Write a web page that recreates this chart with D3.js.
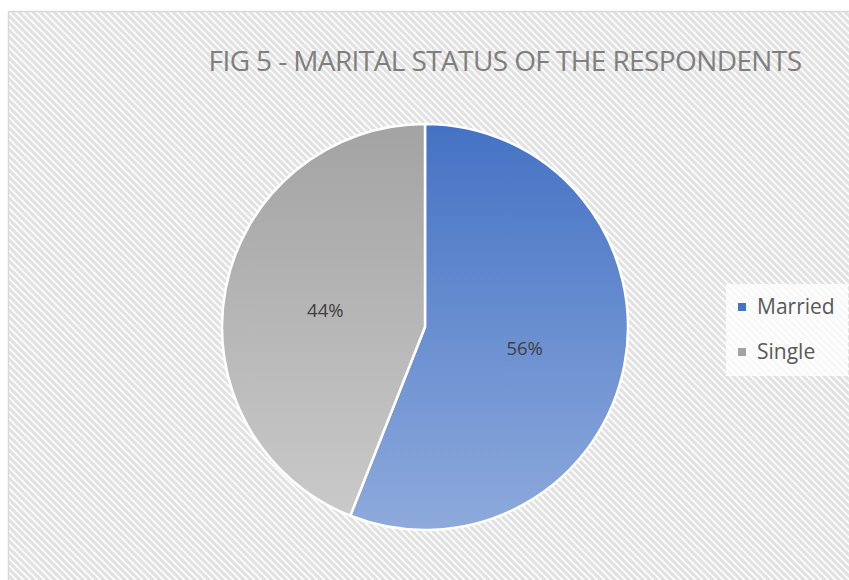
<!DOCTYPE html>
<html>
<head>
<meta charset="utf-8">
<script src="https://cdn.jsdelivr.net/npm/d3@7"></script>
<style>
  body { margin: 0; background: #fff; }
  svg { display: block; }
</style>
</head>
<body>
<svg id="chart"></svg>
<script>
const categories = ['Married', 'Single'];
const shares = [56, 44];
const titleText = 'FIG 5 - MARITAL STATUS OF THE RESPONDENTS';

const width = 849, height = 580;
const font = "'Open Sans', 'Liberation Sans', sans-serif";

const svg = d3.select('#chart')
    .attr('width', width)
    .attr('height', height);

const defs = svg.append('defs');

// diagonal hatch background
const pat = defs.append('pattern')
    .attr('id', 'hatch')
    .attr('patternUnits', 'userSpaceOnUse')
    .attr('width', 7)
    .attr('height', 7);
pat.append('rect').attr('width', 7).attr('height', 7).attr('fill', '#ffffff');
pat.append('path')
    .attr('d', 'M-1,-1 L8,8 M-4,3 L1,8 M3,-4 L8,1')
    .attr('stroke', '#e2e2e2')
    .attr('stroke-width', 3.2);

// vertical gradients for the slices
const gradStops = {
  Married: ['#4472c4', '#8eaadc'],
  Single: ['#a3a3a3', '#cbcbcb']
};

const cx = 425, cy = 327, r = 203;

categories.forEach(c => {
  const g = defs.append('linearGradient')
      .attr('id', 'grad-' + c)
      .attr('gradientUnits', 'userSpaceOnUse')
      .attr('x1', 0).attr('y1', -r)
      .attr('x2', 0).attr('y2', r);
  g.append('stop').attr('offset', '0%').attr('stop-color', gradStops[c][0]);
  g.append('stop').attr('offset', '100%').attr('stop-color', gradStops[c][1]);
});

svg.append('rect')
    .attr('x', 8.5).attr('y', 11.5)
    .attr('width', width).attr('height', height)
    .attr('fill', 'url(#hatch)')
    .attr('stroke', '#d9d9d9')
    .attr('stroke-width', 1.5);

svg.append('text')
    .attr('x', 505)
    .attr('y', 71)
    .attr('text-anchor', 'middle')
    .attr('font-family', font)
    .attr('font-size', 28)
    .attr('letter-spacing', -0.6)
    .attr('fill', '#7f7f7f')
    .text(titleText);

const data = categories.map((c, i) => ({ name: c, value: shares[i] }));

const pie = d3.pie().sort(null).value(d => d.value);
const arc = d3.arc().innerRadius(0).outerRadius(r);
const labelArc = d3.arc().innerRadius(r * 0.5).outerRadius(r * 0.5);

const chart = svg.append('g').attr('transform', `translate(${cx},${cy})`);
const arcs = pie(data);

chart.selectAll('path.slice')
  .data(arcs)
  .join('path')
    .attr('class', 'slice')
    .attr('d', arc)
    .attr('fill', d => `url(#grad-${d.data.name})`)
    .attr('stroke', '#ffffff')
    .attr('stroke-width', 2.5);

chart.selectAll('text.lbl')
  .data(arcs)
  .join('text')
    .attr('class', 'lbl')
    .attr('x', d => labelArc.centroid(d)[0])
    .attr('y', d => labelArc.centroid(d)[1] + 3)
    .attr('dy', '0.35em')
    .attr('text-anchor', 'middle')
    .attr('font-family', font)
    .attr('font-size', 18.5)
    .attr('fill', '#404040')
    .text(d => d.data.value + '%');

// legend
const legend = svg.append('g');
legend.append('rect')
    .attr('x', 726).attr('y', 284)
    .attr('width', 122).attr('height', 92)
    .attr('fill', '#ffffff')
    .attr('opacity', 0.75);

const leg = legend.selectAll('g.item')
  .data(categories)
  .join('g')
    .attr('class', 'item')
    .attr('transform', (d, i) => `translate(738,${307 + i * 45})`);

leg.append('rect')
    .attr('x', 0).attr('y', -4)
    .attr('width', 8).attr('height', 8)
    .attr('fill', d => gradStops[d][0]);

leg.append('text')
    .attr('x', 19)
    .attr('y', 0)
    .attr('dy', '0.35em')
    .attr('font-family', font)
    .attr('font-size', 21)
    .attr('fill', '#595959')
    .text(d => d);
</script>
</body>
</html>
